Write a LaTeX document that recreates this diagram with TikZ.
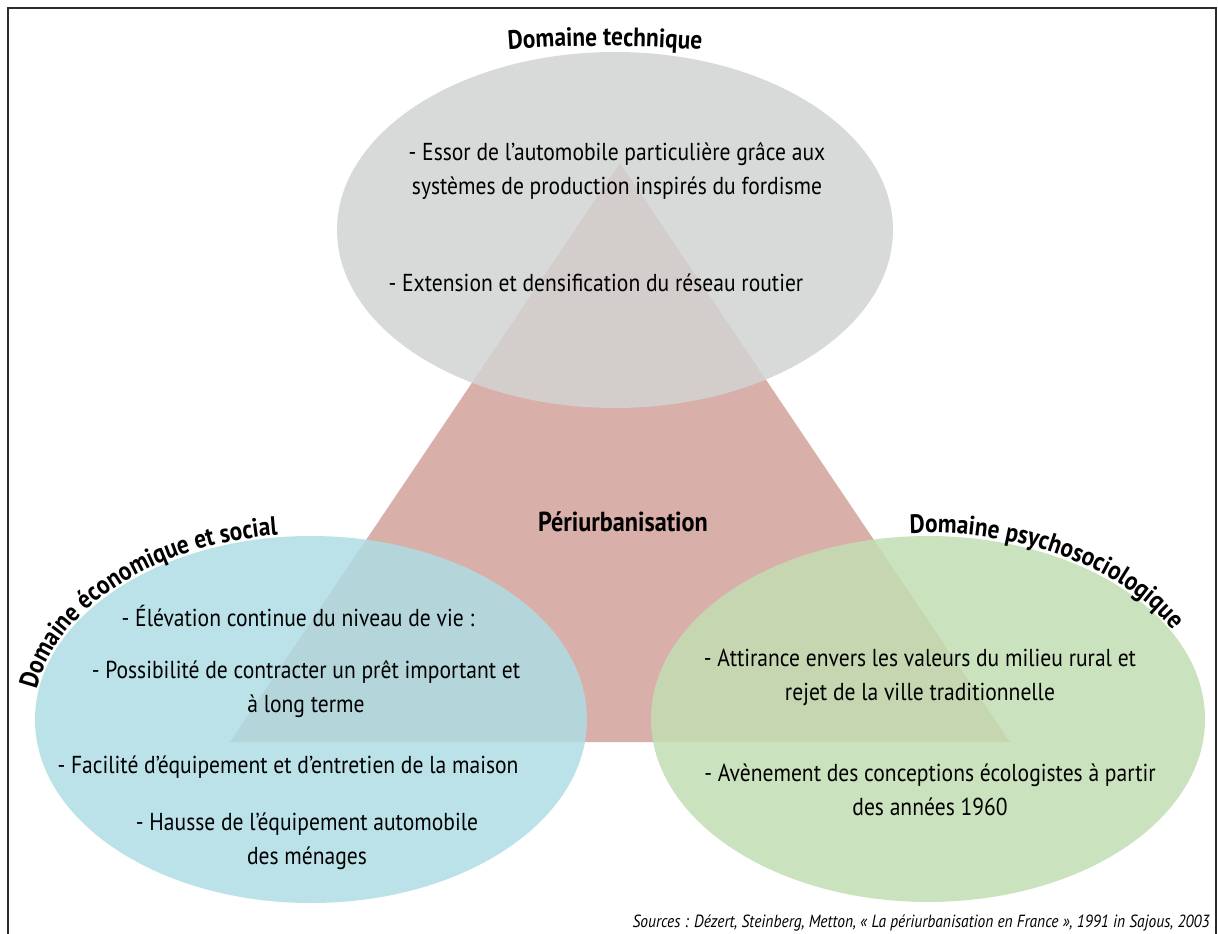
\documentclass[tikz,border=0pt]{standalone}
\usepackage{fontspec}
\setmainfont{PT Sans}[FakeStretch=0.88]
\usetikzlibrary{decorations.text}
\definecolor{grayfill}{HTML}{D2D3D3}
\definecolor{bluefill}{HTML}{AEDDE4}
\definecolor{greenfill}{HTML}{C3DEB3}
\definecolor{trifill}{HTML}{D9AFA9}
\definecolor{framecol}{HTML}{2B2B2B}
\newcommand\dtitlefont{\fontsize{26.5}{32}\selectfont\bfseries}
\begin{document}
\begin{tikzpicture}[x=1pt,y=1pt,
  body/.style={align=center, font=\fontsize{24.5}{34}\selectfont, inner sep=0pt},
  bold/.style={font=\fontsize{27.5}{32}\selectfont\bfseries, inner sep=0pt},
  ellfill/.style={fill opacity=0.85},
  curved/.style={decorate, decoration={text along path, text align=center, text={#1}}}]
\useasboundingbox (0,0) rectangle (1218,-934);
\fill[white] (0,0) rectangle (1218,-934);
% triangle
\coordinate (apex) at (620,-163);
\coordinate (tl) at (230,-742);
\coordinate (tr) at (1010,-742);
\fill[trifill] (apex) -- (tl) -- (tr) -- cycle;
% ellipses
\fill[grayfill, ellfill] (615,-230) ellipse [x radius=278, y radius=178];
\fill[bluefill, ellfill] (311,-719.5) ellipse [x radius=276, y radius=183.5];
\fill[greenfill, ellfill] (928,-719) ellipse [x radius=277, y radius=183];
% frame
\draw[framecol, line width=2pt] (8,-934) -- (8,-8) -- (1216,-8) -- (1216,-934);
% curved titles
\path[curved={|\dtitlefont|Domaine technique}] (605,-1296) ++(100:1250) arc[start angle=100, end angle=80, radius=1250];
\path[curved={|\dtitlefont|Domaine économique et social}] (311,-719.5) ++(184:278 and 186) arc[start angle=184, end angle=88, x radius=278, y radius=186];
\path[curved={|\dtitlefont|Domaine psychosociologique}] (928,-719) ++(100:279 and 186) arc[start angle=100, end angle=20, x radius=279, y radius=186];
% texts
\node[body] (g1) at (617,-171) {- Essor de l’automobile particulière grâce aux\\systèmes de production inspirés du fordisme};
\node[body] (g2) at (596,-283) {- Extension et densification du réseau routier};
\node[bold] (peri) at (623,-522) {Périurbanisation};
\node[body] (b1) at (298,-616) {- Élévation continue du niveau de vie :};
\node[body] (b2) at (306,-689) {- Possibilité de contracter un prêt important et\\à long terme};
\node[body] (b3) at (288,-767) {- Facilité d’équipement et d’entretien de la maison};
\node[body] (b4) at (307,-841) {- Hausse de l’équipement automobile\\des ménages};
\node[body] (gr1) at (920,-677) {- Attirance envers les valeurs du milieu rural et\\rejet de la ville traditionnelle};
\node[body] (gr2) at (930,-790) {- Avènement des conceptions écologistes à partir\\des années 1960};
\node[anchor=base east, inner sep=0pt, font=\fontsize{17.6}{20}\selectfont\itshape] (src) at (1210,-927) {Sources : Dézert, Steinberg, Metton, « La périurbanisation en France », 1991 in Sajous, 2003};
\end{tikzpicture}
\end{document}
